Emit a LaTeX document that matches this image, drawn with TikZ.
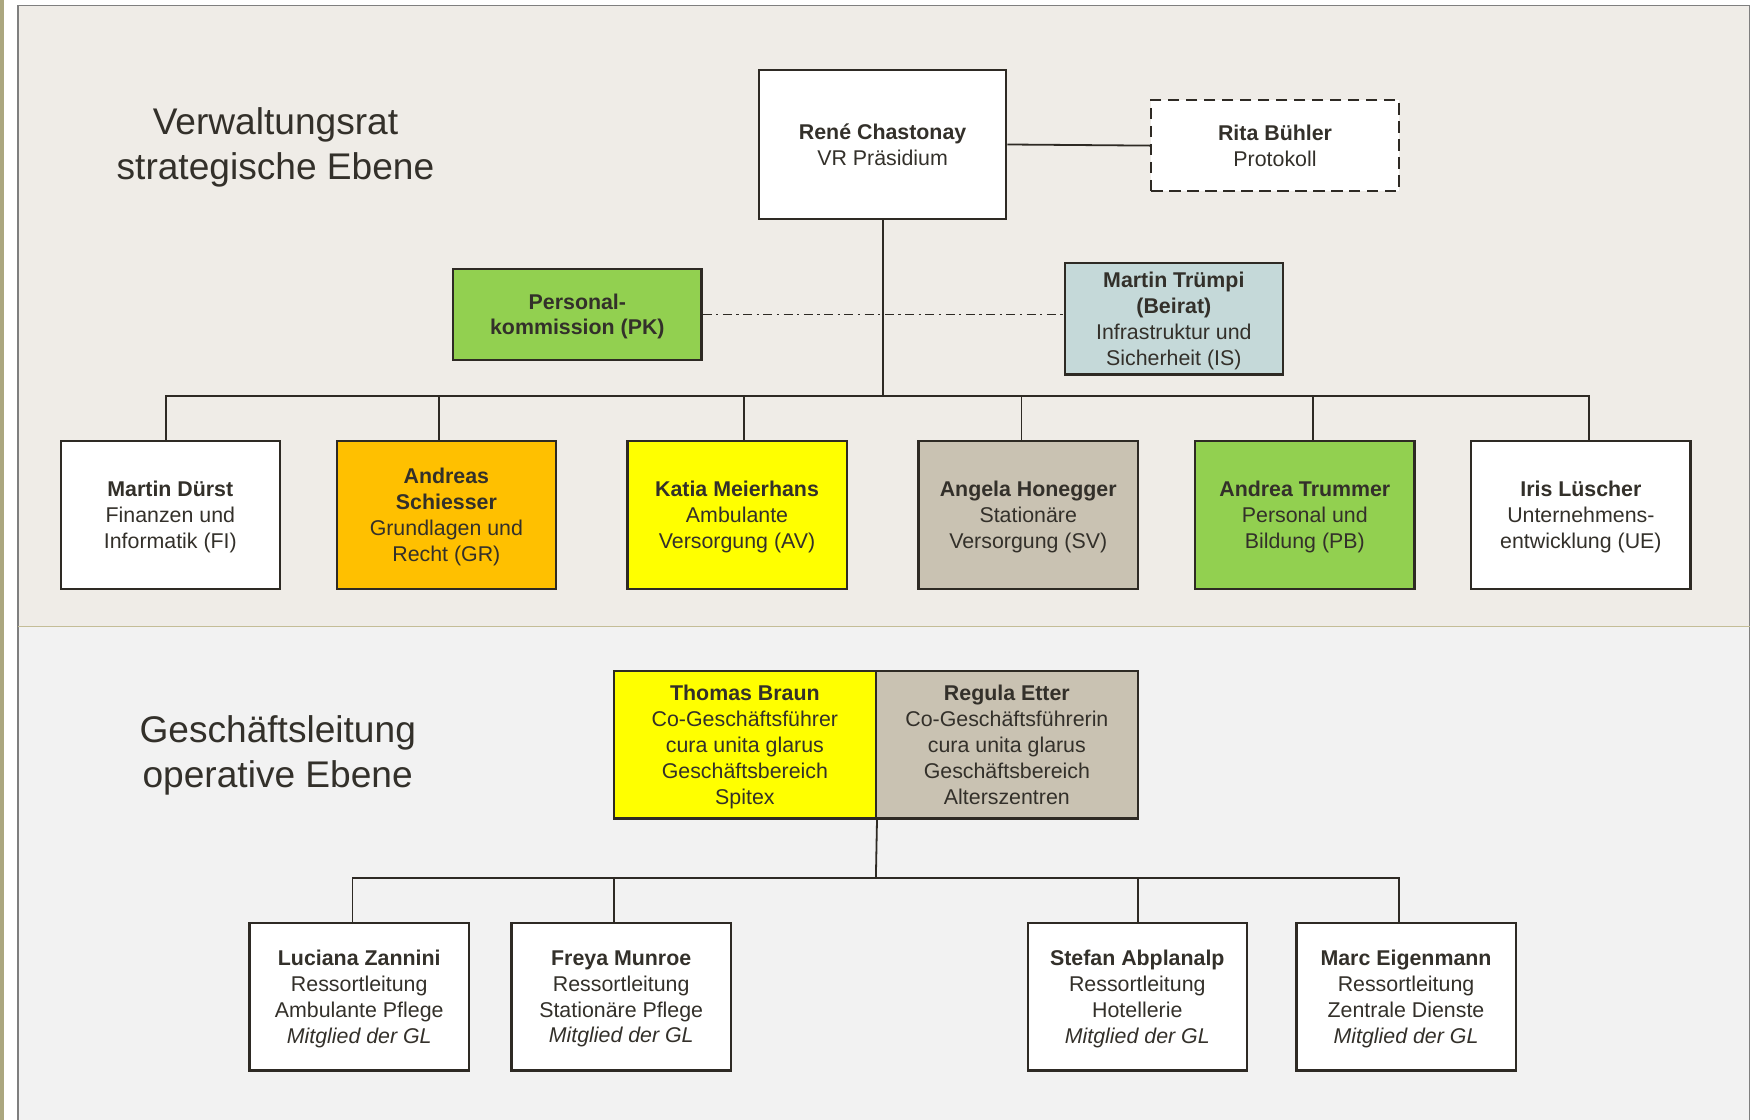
\documentclass[tikz,border=0pt]{standalone}
\usepackage{fontspec}
\setmainfont{Liberation Sans}
\usepackage{xcolor}
\definecolor{cudark}{HTML}{2E2A24}
\definecolor{cutext}{HTML}{33302A}
\definecolor{cuolive}{HTML}{ABA77F}
\definecolor{cupanel}{HTML}{EFECE7}
\definecolor{cupanellow}{HTML}{F2F2F2}
\definecolor{cuborder}{HTML}{7F7F7F}
\definecolor{cusep}{HTML}{C4BD97}
\definecolor{cugreen}{HTML}{92D050}
\definecolor{cuorange}{HTML}{FFC000}
\definecolor{cuyellow}{HTML}{FFFF00}
\definecolor{cutaupe}{HTML}{C9C2B2}
\definecolor{cublue}{HTML}{C5D9D9}

\begin{document}
\begin{tikzpicture}[
  x=0.5pt, y=-0.5pt,
  box/.style={
    rectangle, draw=cudark, line width=1pt, fill=white,
    text=cutext, align=center, inner sep=0pt, text depth=0pt,
    font=\fontsize{9.5}{11.5}\selectfont
  },
  member/.style={box, minimum width=97.5pt, minimum height=66pt},
  lead/.style={box, minimum width=116.5pt, minimum height=65.5pt},
  level/.style={text=cutext, align=center, text depth=0pt,
    font=\fontsize{16.5}{20}\selectfont},
  conn/.style={draw=cudark, line width=0.8pt}
]
  \useasboundingbox (0,0) rectangle (1568,996);

  % panels
  \fill[cuolive] (0,0) rectangle (4,996);
  \draw[fill=cupanel, draw=cuborder, line width=0.6pt] (16,5) rectangle (1556,557);
  \fill[cupanellow] (16,557) rectangle (1556,996);
  \draw[cuborder, line width=0.6pt] (16,557) -- (16,996) (1556,557) -- (1556,996);
  \draw[cusep, line width=0.6pt] (16,557) -- (1556,557);

  \node[level] (vrtitle) at (245,128) {Verwaltungsrat\\strategische Ebene};
  \node[level] (gltitle) at (247,668) {Geschäftsleitung\\operative Ebene};

  % Verwaltungsrat
  \node[box, minimum width=110pt, minimum height=66.5pt] (rene) at (785,128.5)
    {\textbf{René Chastonay}\\VR Präsidium};
  \node[box, minimum width=110pt, minimum height=40.5pt,
        dash pattern=on 5pt off 3pt] (rita) at (1134,129.5)
    {\textbf{Rita Bühler}\\Protokoll};
  \node[box, fill=cugreen, minimum width=110.5pt, minimum height=40.5pt] (pk) at (513.5,279.5)
    {\textbf{Personal-}\\\textbf{kommission (PK)}};
  \node[box, fill=cublue, minimum width=97pt, minimum height=49.5pt] (truempi) at (1044,283.5)
    {\textbf{Martin Trümpi}\\\textbf{(Beirat)}\\Infrastruktur und\\Sicherheit (IS)};

  \node[member] (fi) at (151.5,458) {\textbf{Martin Dürst}\\Finanzen und\\Informatik (FI)};
  \node[member, fill=cuorange] (gr) at (397,458) {\textbf{Andreas}\\\textbf{Schiesser}\\Grundlagen und\\Recht (GR)};
  \node[member, fill=cuyellow] (av) at (655.5,458) {\textbf{Katia Meierhans}\\Ambulante\\Versorgung (AV)};
  \node[member, fill=cutaupe] (sv) at (914.5,458) {\textbf{Angela Honegger}\\Stationäre\\Versorgung (SV)};
  \node[member, fill=cugreen] (pb) at (1160.5,458) {\textbf{Andrea Trummer}\\Personal und\\Bildung (PB)};
  \node[member] (ue) at (1406,458) {\textbf{Iris Lüscher}\\Unternehmens-\\entwicklung (UE)};

  \coordinate (vrbus) at (785,352);
  \draw[conn] (rene.east) -- (rita.west);
  \draw[conn] (rene.south) -- (vrbus);
  \foreach \b/\dx in {fi/-4,gr/-6.5,av/6.5,sv/-6,pb/7,ue/7}
    \draw[conn] (vrbus) -| ([xshift=\dx*0.5pt]\b.north);
  \draw[draw=cudark, line width=0.6pt, dash pattern=on 4pt off 2pt on 1pt off 2pt]
    (pk.east) -- (pk.east -| truempi.west);

  % Geschaeftsleitung
  \node[lead, fill=cuyellow] (braun) at (662.5,662.5)
    {\textbf{Thomas Braun}\\Co-Geschäftsführer\\cura unita glarus\\Geschäftsbereich\\Spitex};
  \node[lead, fill=cutaupe] (etter) at (895.5,662.5)
    {\textbf{Regula Etter}\\Co-Geschäftsführerin\\cura unita glarus\\Geschäftsbereich\\Alterszentren};

  \node[member, minimum height=65.5pt] (ap) at (319.5,886.5)
    {\textbf{Luciana Zannini}\\Ressortleitung\\Ambulante Pflege\\\textit{Mitglied der GL}};
  \node[member, minimum height=65.5pt] (sp) at (552.5,886.5)
    {\textbf{Freya Munroe}\\Ressortleitung\\Stationäre Pflege\\\textit{Mitglied der GL}};
  \node[member, minimum height=65.5pt] (ho) at (1011.5,886.5)
    {\textbf{Stefan Abplanalp}\\Ressortleitung\\Hotellerie\\\textit{Mitglied der GL}};
  \node[member, minimum height=65.5pt] (zd) at (1250.5,886.5)
    {\textbf{Marc Eigenmann}\\Ressortleitung\\Zentrale Dienste\\\textit{Mitglied der GL}};

  \coordinate (glbus) at (779,781);
  \draw[conn] (braun.south east) -- (glbus);
  \foreach \b/\dx in {ap/-6,sp/-6.5,ho/0.5,zd/-6}
    \draw[conn] (glbus) -| ([xshift=\dx*0.5pt]\b.north);
\end{tikzpicture}
\end{document}
